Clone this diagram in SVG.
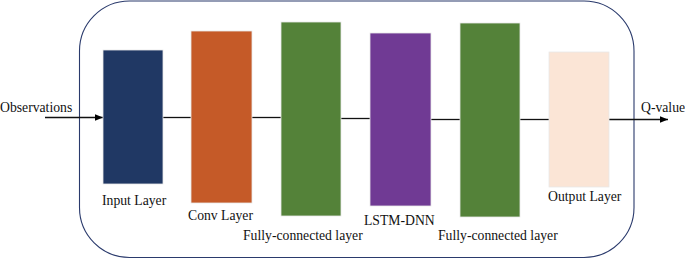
<svg xmlns="http://www.w3.org/2000/svg" width="685" height="259" viewBox="0 0 685 259">
<defs>
<style>
.lbl{font-family:"Liberation Serif","Times New Roman",serif;font-size:13.7px;fill:#111}
.blk{stroke:#e8e8e8;stroke-width:0.8}
.con{stroke:#111;stroke-width:1.3;fill:none}
</style>
<marker id="ah" viewBox="0 0 10 10" refX="10" refY="5" markerWidth="8" markerHeight="8" markerUnits="userSpaceOnUse" orient="auto">
<path d="M0,1 L10,5 L0,9 z" fill="#000"/>
</marker>
</defs>
<rect x="0" y="0" width="685" height="259" fill="#fff"/>
<g id="frame">
<rect x="79.5" y="1" width="554.5" height="256.5" rx="50" ry="50" fill="none" stroke="#2a3a6c" stroke-width="1.1"/>
</g>
<g id="connectors">
<line class="con" x1="45" y1="117.5" x2="103" y2="117.5" marker-end="url(#ah)"/>
<line class="con" x1="163" y1="117.5" x2="191" y2="117.5"/>
<line class="con" x1="252" y1="117.5" x2="281" y2="117.5"/>
<line class="con" x1="341" y1="118.5" x2="370" y2="118.5"/>
<line class="con" x1="431" y1="119.5" x2="460" y2="119.5"/>
<line class="con" x1="520" y1="119.5" x2="549" y2="119.5"/>
<line class="con" x1="609" y1="119.5" x2="668" y2="119.5" marker-end="url(#ah)"/>
</g>
<g id="input">
<rect class="blk" x="103" y="50" width="60" height="134" fill="#203864"/>
<text class="lbl" x="102" y="205">Input Layer</text>
</g>
<g id="conv">
<rect class="blk" x="191" y="31" width="61" height="172" fill="#c55a28"/>
<text class="lbl" x="188" y="220">Conv Layer</text>
</g>
<g id="fc1">
<rect class="blk" x="281" y="22" width="60" height="194" fill="#548239"/>
<text class="lbl" x="243" y="240">Fully-connected layer</text>
</g>
<g id="lstm">
<rect class="blk" x="370" y="33" width="61" height="173" fill="#703a94"/>
<text class="lbl" x="364" y="225">LSTM-DNN</text>
</g>
<g id="fc2">
<rect class="blk" x="460" y="23" width="60" height="194" fill="#548239"/>
<text class="lbl" x="438" y="240">Fully-connected layer</text>
</g>
<g id="output">
<rect class="blk" x="549" y="52" width="60" height="135" fill="#fbe5d6"/>
<text class="lbl" x="548" y="201">Output Layer</text>
</g>
<g id="labels">
<text class="lbl" x="0" y="112">Observations</text>
<text class="lbl" x="641" y="112">Q-value</text>
</g>
</svg>
